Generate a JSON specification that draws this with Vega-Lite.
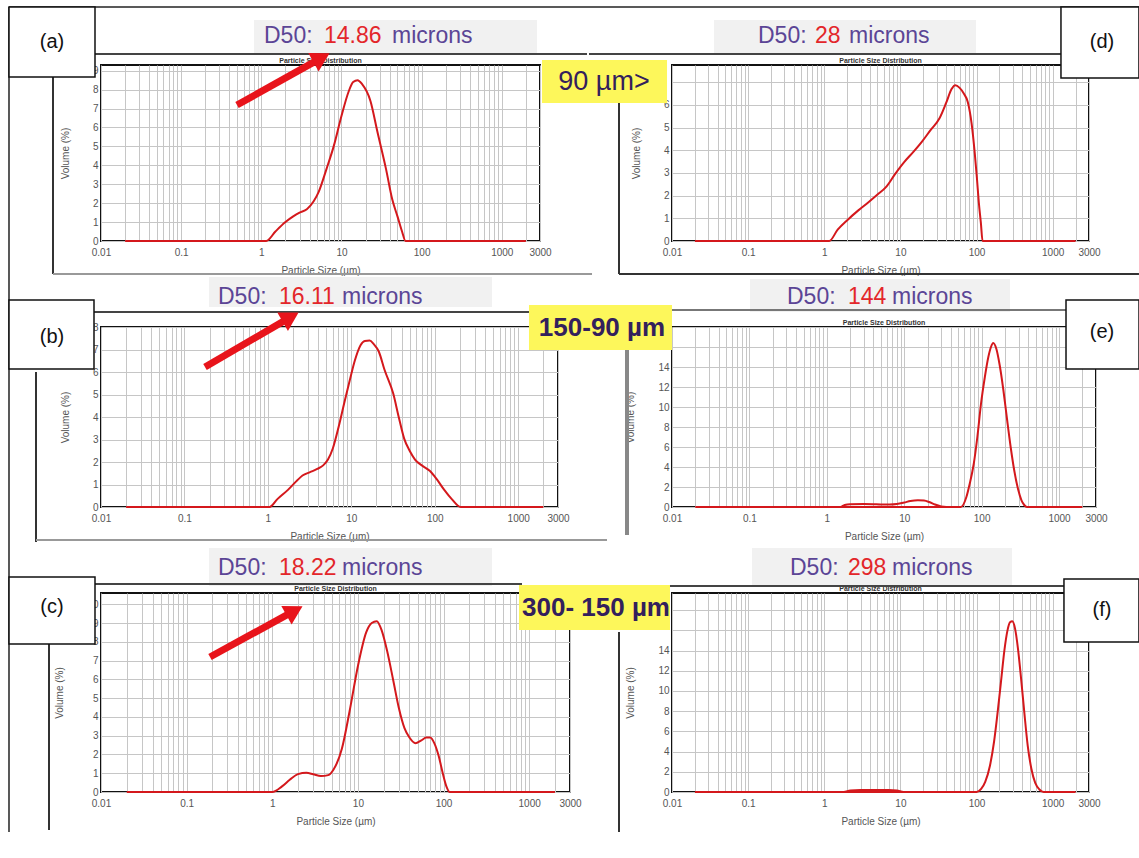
{
"$schema": "https://vega.github.io/schema/vega-lite/v6.json",
"background": "white",
"padding": {"left": 7, "top": 5, "right": 0, "bottom": 5},
"columns": 2,
"bounds": "flush",
"spacing": {"row": 86, "column": 102},
"config": {
 "view": {"stroke": "#111", "strokeWidth": 2},
 "axis": {"labelFont": "Liberation Sans", "labelFontSize": 10, "labelColor": "#555", "titleFont": "Liberation Sans", "titleFontSize": 10, "titleColor": "#555", "titleFontWeight": "normal", "gridColor": "#c6c6c6", "gridWidth": 1, "ticks": false, "domain": false, "labelPadding": 3, "labelOverlap": false},
 "axisX": {"labelPadding": 6},
 "text": {"font": "Liberation Sans"}
},
"concat": [
{
 "width": 439, "height": 176,
 "resolve": {"axis": {"x": "independent", "y": "independent"}},
 "layer": [
  {"data": {"values": [{"x":0.02,"y":0},{"x":1.15,"y":0},{"x":1.5,"y":0.5},{"x":2,"y":1.0},{"x":2.5,"y":1.3},{"x":3,"y":1.5},{"x":3.7,"y":1.68},{"x":4.5,"y":2.1},{"x":5.2,"y":2.6},{"x":6.5,"y":3.8},{"x":8,"y":5.0},{"x":10,"y":6.6},{"x":12.3,"y":7.9},{"x":14,"y":8.4},{"x":15.9,"y":8.5},{"x":18,"y":8.3},{"x":23,"y":7.4},{"x":28,"y":5.8},{"x":36,"y":3.8},{"x":43,"y":2.2},{"x":50,"y":1.3},{"x":57,"y":0.5},{"x":63,"y":0},{"x":2000,"y":0}]},
   "mark": {"type": "line", "color": "#d4181c", "strokeWidth": 2, "interpolate": "monotone"},
   "encoding": {
    "x": {"field": "x", "type": "quantitative", "scale": {"type": "log", "domain": [0.01, 3000], "nice": false}, "axis": {"values": [0.01,0.02,0.03,0.04,0.05,0.06,0.07,0.08,0.09,0.1,0.2,0.3,0.4,0.5,0.6,0.7,0.8,0.9,1,2,3,4,5,6,7,8,9,10,20,30,40,50,60,70,80,90,100,200,300,400,500,600,700,800,900,1000,2000,3000], "format": "~g", "labelExpr": "indexof([0.01,0.1,1,10,100,1000,3000], datum.value) >= 0 ? datum.label : ''", "labelFlush": false, "title": "Particle Size (µm)", "titlePadding": 8}},
    "y": {"field": "y", "type": "quantitative", "scale": {"domain": [0, 9.3], "nice": false}, "axis": {"values": [0,1,2,3,4,5,6,7,8,9], "grid": true, "title": "Volume (%)", "titlePadding": 22}}}},
  {"data": {"values": [{}]}, "mark": {"type": "text", "text": "Particle Size Distribution", "align": "center", "baseline": "bottom", "dy": -1, "fontSize": 7, "fontWeight": "bold", "color": "#333"},
   "encoding": {"x": {"datum": 5.477, "type": "quantitative", "scale": {"type": "log", "domain": [0.01, 3000], "nice": false}, "axis": null}, "y": {"datum": 9.3, "type": "quantitative", "scale": {"domain": [0, 9.3], "nice": false}, "axis": null}}},
  {"data": {"values": [{}]}, "mark": {"type": "rect", "fill": "#f1f1f1"},
   "encoding": {"x": {"datum": 0.811, "type": "quantitative", "scale": {"type": "log", "domain": [0.01, 3000], "nice": false}, "axis": null}, "x2": {"datum": 2754}, "y": {"datum": 11.678, "type": "quantitative", "scale": {"domain": [0, 9.3], "nice": false}, "axis": null}, "y2": {"datum": 9.881}}},
  {"data": {"values": [{}]}, "mark": {"type": "rule", "color": "#444", "strokeWidth": 2},
   "encoding": {"x": {"datum": 0.008416, "type": "quantitative", "scale": {"type": "log", "domain": [0.01, 3000], "nice": false}, "axis": null}, "x2": {"datum": 11575}, "y": {"datum": 9.881, "type": "quantitative", "scale": {"domain": [0, 9.3], "nice": false}, "axis": null}, "y2": {"datum": 9.881}}},
  {"data": {"values": [{}]}, "mark": {"type": "text", "text": "D50:", "align": "left", "baseline": "middle", "fontSize": 23, "color": "#5b4596"},
   "encoding": {"x": {"datum": 1.081, "type": "quantitative", "scale": {"type": "log", "domain": [0.01, 3000], "nice": false}, "axis": null}, "y": {"datum": 10.832, "type": "quantitative", "scale": {"domain": [0, 9.3], "nice": false}, "axis": null}}},
  {"data": {"values": [{}]}, "mark": {"type": "text", "text": "14.86", "align": "left", "baseline": "middle", "fontSize": 23, "color": "#e3262a"},
   "encoding": {"x": {"datum": 6.057, "type": "quantitative", "scale": {"type": "log", "domain": [0.01, 3000], "nice": false}, "axis": null}, "y": {"datum": 10.832, "type": "quantitative", "scale": {"domain": [0, 9.3], "nice": false}, "axis": null}}},
  {"data": {"values": [{}]}, "mark": {"type": "text", "text": "microns", "align": "left", "baseline": "middle", "fontSize": 23, "color": "#5b4596"},
   "encoding": {"x": {"datum": 42.72, "type": "quantitative", "scale": {"type": "log", "domain": [0.01, 3000], "nice": false}, "axis": null}, "y": {"datum": 10.832, "type": "quantitative", "scale": {"domain": [0, 9.3], "nice": false}, "axis": null}}},
  {"data": {"values": [{}]}, "mark": {"type": "rule", "color": "#333", "strokeWidth": 2},
   "encoding": {"x": {"datum": 0.002518, "type": "quantitative", "scale": {"type": "log", "domain": [0.01, 3000], "nice": false}, "axis": null}, "x2": {"datum": 0.002518}, "y": {"datum": 8.666, "type": "quantitative", "scale": {"domain": [0, 9.3], "nice": false}, "axis": null}, "y2": {"datum": -1.744}}},
  {"data": {"values": [{}]}, "mark": {"type": "rule", "color": "#999", "strokeWidth": 2},
   "encoding": {"x": {"datum": 0.002518, "type": "quantitative", "scale": {"type": "log", "domain": [0.01, 3000], "nice": false}, "axis": null}, "x2": {"datum": 13366}, "y": {"datum": -1.744, "type": "quantitative", "scale": {"domain": [0, 9.3], "nice": false}, "axis": null}, "y2": {"datum": -1.744}}},
  {"data": {"values": [{}]}, "mark": {"type": "rule", "color": "#222", "strokeWidth": 1.5},
   "encoding": {"x": {"datum": 0.0007115, "type": "quantitative", "scale": {"type": "log", "domain": [0.01, 3000], "nice": false}, "axis": null}, "x2": {"datum": 89280000000}, "y": {"datum": 12.365, "type": "quantitative", "scale": {"domain": [0, 9.3], "nice": false}, "axis": null}, "y2": {"datum": 12.365}}},
  {"data": {"values": [{}]}, "mark": {"type": "rule", "color": "#222", "strokeWidth": 1.5},
   "encoding": {"x": {"datum": 0.0007115, "type": "quantitative", "scale": {"type": "log", "domain": [0.01, 3000], "nice": false}, "axis": null}, "x2": {"datum": 0.0007115}, "y": {"datum": 12.365, "type": "quantitative", "scale": {"domain": [0, 9.3], "nice": false}, "axis": null}, "y2": {"datum": -31.23}}},
  {"data": {"values": [{}]}, "mark": {"type": "rect", "fill": "white", "stroke": "#111", "strokeWidth": 1.5},
   "encoding": {"x": {"datum": 0.0007115, "type": "quantitative", "scale": {"type": "log", "domain": [0.01, 3000], "nice": false}, "axis": null}, "x2": {"datum": 0.008416}, "y": {"datum": 12.365, "type": "quantitative", "scale": {"domain": [0, 9.3], "nice": false}, "axis": null}, "y2": {"datum": 8.666}}},
  {"data": {"values": [{}]}, "mark": {"type": "text", "text": "(a)", "align": "center", "baseline": "middle", "fontSize": 20, "color": "#111"},
   "encoding": {"x": {"datum": 0.002447, "type": "quantitative", "scale": {"type": "log", "domain": [0.01, 3000], "nice": false}, "axis": null}, "y": {"datum": 10.515, "type": "quantitative", "scale": {"domain": [0, 9.3], "nice": false}, "axis": null}}},
  {"data": {"values": [{}]}, "mark": {"type": "rule", "color": "#e8141b", "strokeWidth": 7},
   "encoding": {"x": {"datum": 0.4975, "type": "quantitative", "scale": {"type": "log", "domain": [0.01, 3000], "nice": false}, "axis": null}, "x2": {"datum": 4.955}, "y": {"datum": 7.186, "type": "quantitative", "scale": {"domain": [0, 9.3], "nice": false}, "axis": null}, "y2": {"datum": 9.543}}},
  {"data": {"values": [{}]}, "mark": {"type": "point", "shape": "triangle-up", "filled": true, "color": "#e8141b", "opacity": 1, "size": 450, "angle": 61},
   "encoding": {"x": {"datum": 5.637, "type": "quantitative", "scale": {"type": "log", "domain": [0.01, 3000], "nice": false}, "axis": null}, "y": {"datum": 9.68, "type": "quantitative", "scale": {"domain": [0, 9.3], "nice": false}, "axis": null}}}
 ]
},
{
 "width": 417, "height": 176,
 "resolve": {"axis": {"x": "independent", "y": "independent"}},
 "layer": [
  {"data": {"values": [{"x":0.02,"y":0},{"x":1.16,"y":0},{"x":1.5,"y":0.5},{"x":2.02,"y":0.93},{"x":2.8,"y":1.35},{"x":3.84,"y":1.72},{"x":5,"y":2.05},{"x":6.55,"y":2.4},{"x":8.5,"y":2.95},{"x":11.2,"y":3.48},{"x":15,"y":3.95},{"x":19.1,"y":4.37},{"x":25,"y":4.9},{"x":32.5,"y":5.4},{"x":40,"y":6.1},{"x":47,"y":6.7},{"x":52.6,"y":6.87},{"x":60,"y":6.75},{"x":68,"y":6.5},{"x":76.7,"y":6.13},{"x":86,"y":5.2},{"x":94.6,"y":3.9},{"x":101,"y":2.8},{"x":107,"y":1.72},{"x":114,"y":0.8},{"x":120,"y":0},{"x":2000,"y":0}]},
   "mark": {"type": "line", "color": "#d4181c", "strokeWidth": 2, "interpolate": "monotone"},
   "encoding": {
    "x": {"field": "x", "type": "quantitative", "scale": {"type": "log", "domain": [0.01, 3000], "nice": false}, "axis": {"values": [0.01,0.02,0.03,0.04,0.05,0.06,0.07,0.08,0.09,0.1,0.2,0.3,0.4,0.5,0.6,0.7,0.8,0.9,1,2,3,4,5,6,7,8,9,10,20,30,40,50,60,70,80,90,100,200,300,400,500,600,700,800,900,1000,2000,3000], "format": "~g", "labelExpr": "indexof([0.01,0.1,1,10,100,1000,3000], datum.value) >= 0 ? datum.label : ''", "labelFlush": false, "title": "Particle Size (µm)", "titlePadding": 8}},
    "y": {"field": "y", "type": "quantitative", "scale": {"domain": [0, 7.76], "nice": false}, "axis": {"values": [0,1,2,3,4,5,6,7], "labelExpr": "datum.value > 6 ? '' : datum.label", "grid": true, "title": "Volume (%)", "titlePadding": 22}}}},
  {"data": {"values": [{}]}, "mark": {"type": "text", "text": "Particle Size Distribution", "align": "center", "baseline": "bottom", "dy": -1, "fontSize": 7, "fontWeight": "bold", "color": "#333"},
   "encoding": {"x": {"datum": 5.477, "type": "quantitative", "scale": {"type": "log", "domain": [0.01, 3000], "nice": false}, "axis": null}, "y": {"datum": 7.76, "type": "quantitative", "scale": {"domain": [0, 7.76], "nice": false}, "axis": null}}},
  {"data": {"values": [{}]}, "mark": {"type": "rect", "fill": "#f1f1f1"},
   "encoding": {"x": {"datum": 0.0356, "type": "quantitative", "scale": {"type": "log", "domain": [0.01, 3000], "nice": false}, "axis": null}, "x2": {"datum": 98.3}, "y": {"datum": 9.744, "type": "quantitative", "scale": {"domain": [0, 7.76], "nice": false}, "axis": null}, "y2": {"datum": 8.245}}},
  {"data": {"values": [{}]}, "mark": {"type": "rule", "color": "#444", "strokeWidth": 2},
   "encoding": {"x": {"datum": 0.0008126, "type": "quantitative", "scale": {"type": "log", "domain": [0.01, 3000], "nice": false}, "axis": null}, "x2": {"datum": 1285}, "y": {"datum": 8.245, "type": "quantitative", "scale": {"domain": [0, 7.76], "nice": false}, "axis": null}, "y2": {"datum": 8.245}}},
  {"data": {"values": [{}]}, "mark": {"type": "text", "text": "D50:", "align": "left", "baseline": "middle", "fontSize": 23, "color": "#5b4596"},
   "encoding": {"x": {"datum": 0.1348, "type": "quantitative", "scale": {"type": "log", "domain": [0.01, 3000], "nice": false}, "axis": null}, "y": {"datum": 9.039, "type": "quantitative", "scale": {"domain": [0, 7.76], "nice": false}, "axis": null}}},
  {"data": {"values": [{}]}, "mark": {"type": "text", "text": "28", "align": "left", "baseline": "middle", "fontSize": 23, "color": "#e3262a"},
   "encoding": {"x": {"datum": 0.7552, "type": "quantitative", "scale": {"type": "log", "domain": [0.01, 3000], "nice": false}, "axis": null}, "y": {"datum": 9.039, "type": "quantitative", "scale": {"domain": [0, 7.76], "nice": false}, "axis": null}}},
  {"data": {"values": [{}]}, "mark": {"type": "text", "text": "microns", "align": "left", "baseline": "middle", "fontSize": 23, "color": "#5b4596"},
   "encoding": {"x": {"datum": 2.112, "type": "quantitative", "scale": {"type": "log", "domain": [0.01, 3000], "nice": false}, "axis": null}, "y": {"datum": 9.039, "type": "quantitative", "scale": {"domain": [0, 7.76], "nice": false}, "axis": null}}},
  {"data": {"values": [{}]}, "mark": {"type": "rule", "color": "#333", "strokeWidth": 2},
   "encoding": {"x": {"datum": 0.002013, "type": "quantitative", "scale": {"type": "log", "domain": [0.01, 3000], "nice": false}, "axis": null}, "x2": {"datum": 0.002013}, "y": {"datum": 6.129, "type": "quantitative", "scale": {"domain": [0, 7.76], "nice": false}, "axis": null}, "y2": {"datum": -1.455}}},
  {"data": {"values": [{}]}, "mark": {"type": "rule", "color": "#333", "strokeWidth": 2},
   "encoding": {"x": {"datum": 0.002013, "type": "quantitative", "scale": {"type": "log", "domain": [0.01, 3000], "nice": false}, "axis": null}, "x2": {"datum": 13595}, "y": {"datum": -1.455, "type": "quantitative", "scale": {"domain": [0, 7.76], "nice": false}, "axis": null}, "y2": {"datum": -1.455}}},
  {"data": {"values": [{}]}, "mark": {"type": "rect", "fill": "white", "stroke": "#111", "strokeWidth": 1.5},
   "encoding": {"x": {"datum": 1285, "type": "quantitative", "scale": {"type": "log", "domain": [0.01, 3000], "nice": false}, "axis": null}, "x2": {"datum": 13595}, "y": {"datum": 10.317, "type": "quantitative", "scale": {"domain": [0, 7.76], "nice": false}, "axis": null}, "y2": {"datum": 7.187}}},
  {"data": {"values": [{}]}, "mark": {"type": "text", "text": "(d)", "align": "center", "baseline": "middle", "fontSize": 20, "color": "#111"},
   "encoding": {"x": {"datum": 4441, "type": "quantitative", "scale": {"type": "log", "domain": [0.01, 3000], "nice": false}, "axis": null}, "y": {"datum": 8.774, "type": "quantitative", "scale": {"domain": [0, 7.76], "nice": false}, "axis": null}}},
  {"data": {"values": [{}]}, "mark": {"type": "rect", "fill": "#fdf75b"},
   "encoding": {"x": {"datum": 0.0001962, "type": "quantitative", "scale": {"type": "log", "domain": [0.01, 3000], "nice": false}, "axis": null}, "x2": {"datum": 0.0086}, "y": {"datum": 7.981, "type": "quantitative", "scale": {"domain": [0, 7.76], "nice": false}, "axis": null}, "y2": {"datum": 6.085}}},
  {"data": {"values": [{}]}, "mark": {"type": "text", "text": "90 µm>", "align": "center", "baseline": "middle", "fontSize": 27, "color": "#33205c"},
   "encoding": {"x": {"datum": 0.001279, "type": "quantitative", "scale": {"type": "log", "domain": [0.01, 3000], "nice": false}, "axis": null}, "y": {"datum": 7.011, "type": "quantitative", "scale": {"domain": [0, 7.76], "nice": false}, "axis": null}}}
 ]
},
{
 "width": 457, "height": 180,
 "resolve": {"axis": {"x": "independent", "y": "independent"}},
 "layer": [
  {"data": {"values": [{"x":0.02,"y":0},{"x":1.05,"y":0},{"x":1.3,"y":0.35},{"x":1.74,"y":0.76},{"x":2.2,"y":1.15},{"x":2.6,"y":1.4},{"x":3.2,"y":1.55},{"x":3.9,"y":1.69},{"x":4.6,"y":1.85},{"x":5.25,"y":2.11},{"x":6,"y":2.6},{"x":7.1,"y":3.61},{"x":8.2,"y":4.6},{"x":9.55,"y":5.61},{"x":11,"y":6.5},{"x":12.9,"y":7.19},{"x":14.5,"y":7.38},{"x":16.6,"y":7.4},{"x":18.5,"y":7.25},{"x":21.4,"y":6.9},{"x":25,"y":6.1},{"x":31.8,"y":5.04},{"x":37,"y":4.0},{"x":43,"y":3.04},{"x":50,"y":2.5},{"x":58,"y":2.11},{"x":70,"y":1.85},{"x":87,"y":1.61},{"x":105,"y":1.25},{"x":130,"y":0.76},{"x":160,"y":0.35},{"x":204,"y":0},{"x":2000,"y":0}]},
   "mark": {"type": "line", "color": "#d4181c", "strokeWidth": 2, "interpolate": "monotone"},
   "encoding": {
    "x": {"field": "x", "type": "quantitative", "scale": {"type": "log", "domain": [0.01, 3000], "nice": false}, "axis": {"values": [0.01,0.02,0.03,0.04,0.05,0.06,0.07,0.08,0.09,0.1,0.2,0.3,0.4,0.5,0.6,0.7,0.8,0.9,1,2,3,4,5,6,7,8,9,10,20,30,40,50,60,70,80,90,100,200,300,400,500,600,700,800,900,1000,2000,3000], "format": "~g", "labelExpr": "indexof([0.01,0.1,1,10,100,1000,3000], datum.value) >= 0 ? datum.label : ''", "labelFlush": false, "title": "Particle Size (µm)", "titlePadding": 8}},
    "y": {"field": "y", "type": "quantitative", "scale": {"domain": [0, 8.0], "nice": false}, "axis": {"values": [0,1,2,3,4,5,6,7,8], "grid": true, "title": "Volume (%)", "titlePadding": 22}}}},
  {"data": {"values": [{}]}, "mark": {"type": "rect", "fill": "#f1f1f1"},
   "encoding": {"x": {"datum": 0.197, "type": "quantitative", "scale": {"type": "log", "domain": [0.01, 3000], "nice": false}, "axis": null}, "x2": {"datum": 485.3}, "y": {"datum": 10.222, "type": "quantitative", "scale": {"domain": [0, 8.0], "nice": false}, "axis": null}, "y2": {"datum": 8.889}}},
  {"data": {"values": [{}]}, "mark": {"type": "rule", "color": "#444", "strokeWidth": 2},
   "encoding": {"x": {"datum": 0.008243, "type": "quantitative", "scale": {"type": "log", "domain": [0.01, 3000], "nice": false}, "axis": null}, "x2": {"datum": 1463}, "y": {"datum": 8.667, "type": "quantitative", "scale": {"domain": [0, 8.0], "nice": false}, "axis": null}, "y2": {"datum": 8.667}}},
  {"data": {"values": [{}]}, "mark": {"type": "text", "text": "D50:", "align": "left", "baseline": "middle", "fontSize": 23, "color": "#5b4596"},
   "encoding": {"x": {"datum": 0.2525, "type": "quantitative", "scale": {"type": "log", "domain": [0.01, 3000], "nice": false}, "axis": null}, "y": {"datum": 9.333, "type": "quantitative", "scale": {"domain": [0, 8.0], "nice": false}, "axis": null}}},
  {"data": {"values": [{}]}, "mark": {"type": "text", "text": "16.11", "align": "left", "baseline": "middle", "fontSize": 23, "color": "#e3262a"},
   "encoding": {"x": {"datum": 1.359, "type": "quantitative", "scale": {"type": "log", "domain": [0.01, 3000], "nice": false}, "axis": null}, "y": {"datum": 9.333, "type": "quantitative", "scale": {"domain": [0, 8.0], "nice": false}, "axis": null}}},
  {"data": {"values": [{}]}, "mark": {"type": "text", "text": "microns", "align": "left", "baseline": "middle", "fontSize": 23, "color": "#5b4596"},
   "encoding": {"x": {"datum": 7.733, "type": "quantitative", "scale": {"type": "log", "domain": [0.01, 3000], "nice": false}, "axis": null}, "y": {"datum": 9.333, "type": "quantitative", "scale": {"domain": [0, 8.0], "nice": false}, "axis": null}}},
  {"data": {"values": [{}]}, "mark": {"type": "rule", "color": "#333", "strokeWidth": 2},
   "encoding": {"x": {"datum": 0.001663, "type": "quantitative", "scale": {"type": "log", "domain": [0.01, 3000], "nice": false}, "axis": null}, "x2": {"datum": 0.001663}, "y": {"datum": 6.0, "type": "quantitative", "scale": {"domain": [0, 8.0], "nice": false}, "axis": null}, "y2": {"datum": -1.556}}},
  {"data": {"values": [{}]}, "mark": {"type": "rule", "color": "#999", "strokeWidth": 2},
   "encoding": {"x": {"datum": 0.001663, "type": "quantitative", "scale": {"type": "log", "domain": [0.01, 3000], "nice": false}, "axis": null}, "x2": {"datum": 11596}, "y": {"datum": -1.467, "type": "quantitative", "scale": {"domain": [0, 8.0], "nice": false}, "axis": null}, "y2": {"datum": -1.467}}},
  {"data": {"values": [{}]}, "mark": {"type": "rect", "fill": "white", "stroke": "#111", "strokeWidth": 1.5},
   "encoding": {"x": {"datum": 0.0007897, "type": "quantitative", "scale": {"type": "log", "domain": [0.01, 3000], "nice": false}, "axis": null}, "x2": {"datum": 0.008243}, "y": {"datum": 9.2, "type": "quantitative", "scale": {"domain": [0, 8.0], "nice": false}, "axis": null}, "y2": {"datum": 6.133}}},
  {"data": {"values": [{}]}, "mark": {"type": "text", "text": "(b)", "align": "center", "baseline": "middle", "fontSize": 20, "color": "#111"},
   "encoding": {"x": {"datum": 0.002587, "type": "quantitative", "scale": {"type": "log", "domain": [0.01, 3000], "nice": false}, "axis": null}, "y": {"datum": 7.556, "type": "quantitative", "scale": {"domain": [0, 8.0], "nice": false}, "axis": null}}},
  {"data": {"values": [{}]}, "mark": {"type": "rule", "color": "#e8141b", "strokeWidth": 7},
   "encoding": {"x": {"datum": 0.1764, "type": "quantitative", "scale": {"type": "log", "domain": [0.01, 3000], "nice": false}, "axis": null}, "x2": {"datum": 1.704}, "y": {"datum": 6.222, "type": "quantitative", "scale": {"domain": [0, 8.0], "nice": false}, "axis": null}, "y2": {"datum": 8.351}}},
  {"data": {"values": [{}]}, "mark": {"type": "point", "shape": "triangle-up", "filled": true, "color": "#e8141b", "opacity": 1, "size": 450, "angle": 60},
   "encoding": {"x": {"datum": 1.872, "type": "quantitative", "scale": {"type": "log", "domain": [0.01, 3000], "nice": false}, "axis": null}, "y": {"datum": 8.44, "type": "quantitative", "scale": {"domain": [0, 8.0], "nice": false}, "axis": null}}}
 ]
},
{
 "width": 424, "height": 180,
 "resolve": {"axis": {"x": "independent", "y": "independent"}},
 "layer": [
  {"data": {"values": [{"x":0.02,"y":0,"s":"m"},{"x":1.5,"y":0,"s":"m"},{"x":1.7,"y":0.2,"s":"m"},{"x":2,"y":0.28,"s":"m"},{"x":3,"y":0.3,"s":"m"},{"x":4,"y":0.28,"s":"m"},{"x":5,"y":0.25,"s":"m"},{"x":6.5,"y":0.25,"s":"m"},{"x":8,"y":0.3,"s":"m"},{"x":10,"y":0.45,"s":"m"},{"x":12,"y":0.6,"s":"m"},{"x":15,"y":0.68,"s":"m"},{"x":18,"y":0.65,"s":"m"},{"x":21,"y":0.5,"s":"m"},{"x":25,"y":0.25,"s":"m"},{"x":30,"y":0.05,"s":"m"},{"x":35,"y":0,"s":"m"},{"x":53.8,"y":0,"s":"m"},{"x":63.5,"y":1.0,"s":"m"},{"x":70,"y":2.3,"s":"m"},{"x":79,"y":4.3,"s":"m"},{"x":88,"y":7.0,"s":"m"},{"x":98,"y":10.3,"s":"m"},{"x":110,"y":13.0,"s":"m"},{"x":122,"y":15.0,"s":"m"},{"x":132,"y":16.0,"s":"m"},{"x":141,"y":16.4,"s":"m"},{"x":155,"y":15.8,"s":"m"},{"x":170,"y":14.3,"s":"m"},{"x":190,"y":11.8,"s":"m"},{"x":211,"y":9.0,"s":"m"},{"x":237,"y":6.0,"s":"m"},{"x":263,"y":3.7,"s":"m"},{"x":295,"y":1.8,"s":"m"},{"x":327,"y":0.67,"s":"m"},{"x":355,"y":0.2,"s":"m"},{"x":385,"y":0,"s":"m"},{"x":2000,"y":0,"s":"m"},{"x":1.5,"y":0,"s":"b"},{"x":35,"y":0,"s":"b"}]},
   "mark": {"type": "line", "color": "#d4181c", "strokeWidth": 2, "interpolate": "monotone"},
   "encoding": {
    "x": {"field": "x", "type": "quantitative", "scale": {"type": "log", "domain": [0.01, 3000], "nice": false}, "axis": {"values": [0.01,0.02,0.03,0.04,0.05,0.06,0.07,0.08,0.09,0.1,0.2,0.3,0.4,0.5,0.6,0.7,0.8,0.9,1,2,3,4,5,6,7,8,9,10,20,30,40,50,60,70,80,90,100,200,300,400,500,600,700,800,900,1000,2000,3000], "format": "~g", "labelExpr": "indexof([0.01,0.1,1,10,100,1000,3000], datum.value) >= 0 ? datum.label : ''", "labelFlush": false, "title": "Particle Size (µm)", "titlePadding": 8}},
    "y": {"field": "y", "type": "quantitative", "scale": {"domain": [0, 18], "nice": false}, "axis": {"values": [0,2,4,6,8,10,12,14,16,18], "labelExpr": "datum.value > 14 ? '' : datum.label", "grid": true, "title": "Volume (%)", "titlePadding": 22}},
    "detail": {"field": "s"}}},
  {"data": {"values": [{}]}, "mark": {"type": "text", "text": "Particle Size Distribution", "align": "center", "baseline": "bottom", "dy": -1, "fontSize": 7, "fontWeight": "bold", "color": "#333"},
   "encoding": {"x": {"datum": 5.477, "type": "quantitative", "scale": {"type": "log", "domain": [0.01, 3000], "nice": false}, "axis": null}, "y": {"datum": 18, "type": "quantitative", "scale": {"domain": [0, 18], "nice": false}, "axis": null}}},
  {"data": {"values": [{}]}, "mark": {"type": "rect", "fill": "#f1f1f1"},
   "encoding": {"x": {"datum": 0.1018, "type": "quantitative", "scale": {"type": "log", "domain": [0.01, 3000], "nice": false}, "axis": null}, "x2": {"datum": 232.5}, "y": {"datum": 22.8, "type": "quantitative", "scale": {"domain": [0, 18], "nice": false}, "axis": null}, "y2": {"datum": 19.5}}},
  {"data": {"values": [{}]}, "mark": {"type": "rule", "color": "#777", "strokeWidth": 2},
   "encoding": {"x": {"datum": 0.000847, "type": "quantitative", "scale": {"type": "log", "domain": [0.01, 3000], "nice": false}, "axis": null}, "x2": {"datum": 1229.5}, "y": {"datum": 19.7, "type": "quantitative", "scale": {"domain": [0, 18], "nice": false}, "axis": null}, "y2": {"datum": 19.7}}},
  {"data": {"values": [{}]}, "mark": {"type": "text", "text": "D50:", "align": "left", "baseline": "middle", "fontSize": 23, "color": "#5b4596"},
   "encoding": {"x": {"datum": 0.3059, "type": "quantitative", "scale": {"type": "log", "domain": [0.01, 3000], "nice": false}, "axis": null}, "y": {"datum": 21.0, "type": "quantitative", "scale": {"domain": [0, 18], "nice": false}, "axis": null}}},
  {"data": {"values": [{}]}, "mark": {"type": "text", "text": "144", "align": "left", "baseline": "middle", "fontSize": 23, "color": "#e3262a"},
   "encoding": {"x": {"datum": 1.877, "type": "quantitative", "scale": {"type": "log", "domain": [0.01, 3000], "nice": false}, "axis": null}, "y": {"datum": 21.0, "type": "quantitative", "scale": {"domain": [0, 18], "nice": false}, "axis": null}}},
  {"data": {"values": [{}]}, "mark": {"type": "text", "text": "microns", "align": "left", "baseline": "middle", "fontSize": 23, "color": "#5b4596"},
   "encoding": {"x": {"datum": 6.95, "type": "quantitative", "scale": {"type": "log", "domain": [0.01, 3000], "nice": false}, "axis": null}, "y": {"datum": 21.0, "type": "quantitative", "scale": {"domain": [0, 18], "nice": false}, "axis": null}}},
  {"data": {"values": [{}]}, "mark": {"type": "rule", "color": "#888", "strokeWidth": 4},
   "encoding": {"x": {"datum": 0.002623, "type": "quantitative", "scale": {"type": "log", "domain": [0.01, 3000], "nice": false}, "axis": null}, "x2": {"datum": 0.002623}, "y": {"datum": 15.7, "type": "quantitative", "scale": {"domain": [0, 18], "nice": false}, "axis": null}, "y2": {"datum": -2.8}}},
  {"data": {"values": [{}]}, "mark": {"type": "rect", "fill": "white", "stroke": "#111", "strokeWidth": 1.5},
   "encoding": {"x": {"datum": 1229.5, "type": "quantitative", "scale": {"type": "log", "domain": [0.01, 3000], "nice": false}, "axis": null}, "x2": {"datum": 10785}, "y": {"datum": 20.7, "type": "quantitative", "scale": {"domain": [0, 18], "nice": false}, "axis": null}, "y2": {"datum": 13.8}}},
  {"data": {"values": [{}]}, "mark": {"type": "text", "text": "(e)", "align": "center", "baseline": "middle", "fontSize": 20, "color": "#111"},
   "encoding": {"x": {"datum": 3588, "type": "quantitative", "scale": {"type": "log", "domain": [0.01, 3000], "nice": false}, "axis": null}, "y": {"datum": 17.5, "type": "quantitative", "scale": {"domain": [0, 18], "nice": false}, "axis": null}}},
  {"data": {"values": [{}]}, "mark": {"type": "rect", "fill": "#fdf75b"},
   "encoding": {"x": {"datum": 0.0001421, "type": "quantitative", "scale": {"type": "log", "domain": [0.01, 3000], "nice": false}, "axis": null}, "x2": {"datum": 0.01}, "y": {"datum": 20.2, "type": "quantitative", "scale": {"domain": [0, 18], "nice": false}, "axis": null}, "y2": {"datum": 15.7}}},
  {"data": {"values": [{}]}, "mark": {"type": "text", "text": "150-90 µm", "align": "center", "baseline": "middle", "fontSize": 26, "fontWeight": "bold", "color": "#33205c"},
   "encoding": {"x": {"datum": 0.001247, "type": "quantitative", "scale": {"type": "log", "domain": [0.01, 3000], "nice": false}, "axis": null}, "y": {"datum": 17.9, "type": "quantitative", "scale": {"domain": [0, 18], "nice": false}, "axis": null}}}
 ]
},
{
 "width": 469, "height": 199,
 "resolve": {"axis": {"x": "independent", "y": "independent"}},
 "layer": [
  {"data": {"values": [{"x":0.02,"y":0},{"x":1.0,"y":0},{"x":1.3,"y":0.3},{"x":1.6,"y":0.65},{"x":2.0,"y":0.95},{"x":2.5,"y":1.02},{"x":3.0,"y":0.95},{"x":3.7,"y":0.85},{"x":4.5,"y":0.9},{"x":5.2,"y":1.2},{"x":6.5,"y":2.3},{"x":8,"y":4.3},{"x":10,"y":6.7},{"x":12.5,"y":8.5},{"x":14.5,"y":9.0},{"x":16.6,"y":9.1},{"x":19,"y":8.6},{"x":22,"y":7.5},{"x":26,"y":5.9},{"x":30,"y":4.5},{"x":35,"y":3.4},{"x":40,"y":2.9},{"x":47,"y":2.6},{"x":55,"y":2.75},{"x":63,"y":2.9},{"x":70,"y":2.9},{"x":78,"y":2.6},{"x":88,"y":1.9},{"x":98,"y":1.0},{"x":108,"y":0.3},{"x":118,"y":0},{"x":2000,"y":0}]},
   "mark": {"type": "line", "color": "#d4181c", "strokeWidth": 2, "interpolate": "monotone"},
   "encoding": {
    "x": {"field": "x", "type": "quantitative", "scale": {"type": "log", "domain": [0.01, 3000], "nice": false}, "axis": {"values": [0.01,0.02,0.03,0.04,0.05,0.06,0.07,0.08,0.09,0.1,0.2,0.3,0.4,0.5,0.6,0.7,0.8,0.9,1,2,3,4,5,6,7,8,9,10,20,30,40,50,60,70,80,90,100,200,300,400,500,600,700,800,900,1000,2000,3000], "format": "~g", "labelExpr": "indexof([0.01,0.1,1,10,100,1000,3000], datum.value) >= 0 ? datum.label : ''", "labelFlush": false, "title": "Particle Size (µm)", "titlePadding": 8}},
    "y": {"field": "y", "type": "quantitative", "scale": {"domain": [0, 10.6], "nice": false}, "axis": {"values": [0,1,2,3,4,5,6,7,8,9,10], "grid": true, "title": "Volume (%)", "titlePadding": 22}}}},
  {"data": {"values": [{}]}, "mark": {"type": "rect", "fill": "#f1f1f1"},
   "encoding": {"x": {"datum": 0.1825, "type": "quantitative", "scale": {"type": "log", "domain": [0.01, 3000], "nice": false}, "axis": null}, "x2": {"datum": 368.3}, "y": {"datum": 13.0, "type": "quantitative", "scale": {"domain": [0, 10.6], "nice": false}, "axis": null}, "y2": {"datum": 10.975}}},
  {"data": {"values": [{}]}, "mark": {"type": "rule", "color": "#444", "strokeWidth": 2},
   "encoding": {"x": {"datum": 0.00851, "type": "quantitative", "scale": {"type": "log", "domain": [0.01, 3000], "nice": false}, "axis": null}, "x2": {"datum": 825}, "y": {"datum": 11.082, "type": "quantitative", "scale": {"domain": [0, 10.6], "nice": false}, "axis": null}, "y2": {"datum": 11.082}}},
  {"data": {"values": [{}]}, "mark": {"type": "text", "text": "Particle Size Distribution", "align": "center", "baseline": "bottom", "dy": -1, "fontSize": 7, "fontWeight": "bold", "color": "#333"},
   "encoding": {"x": {"datum": 5.477, "type": "quantitative", "scale": {"type": "log", "domain": [0.01, 3000], "nice": false}, "axis": null}, "y": {"datum": 10.6, "type": "quantitative", "scale": {"domain": [0, 10.6], "nice": false}, "axis": null}}},
  {"data": {"values": [{}]}, "mark": {"type": "text", "text": "D50:", "align": "left", "baseline": "middle", "fontSize": 23, "color": "#5b4596"},
   "encoding": {"x": {"datum": 0.2324, "type": "quantitative", "scale": {"type": "log", "domain": [0.01, 3000], "nice": false}, "axis": null}, "y": {"datum": 11.934, "type": "quantitative", "scale": {"domain": [0, 10.6], "nice": false}, "axis": null}}},
  {"data": {"values": [{}]}, "mark": {"type": "text", "text": "18.22", "align": "left", "baseline": "middle", "fontSize": 23, "color": "#e3262a"},
   "encoding": {"x": {"datum": 1.1986, "type": "quantitative", "scale": {"type": "log", "domain": [0.01, 3000], "nice": false}, "axis": null}, "y": {"datum": 11.934, "type": "quantitative", "scale": {"domain": [0, 10.6], "nice": false}, "axis": null}}},
  {"data": {"values": [{}]}, "mark": {"type": "text", "text": "microns", "align": "left", "baseline": "middle", "fontSize": 23, "color": "#5b4596"},
   "encoding": {"x": {"datum": 6.522, "type": "quantitative", "scale": {"type": "log", "domain": [0.01, 3000], "nice": false}, "axis": null}, "y": {"datum": 11.934, "type": "quantitative", "scale": {"domain": [0, 10.6], "nice": false}, "axis": null}}},
  {"data": {"values": [{}]}, "mark": {"type": "rule", "color": "#333", "strokeWidth": 2},
   "encoding": {"x": {"datum": 0.00247, "type": "quantitative", "scale": {"type": "log", "domain": [0.01, 3000], "nice": false}, "axis": null}, "x2": {"datum": 0.00247}, "y": {"datum": 7.885, "type": "quantitative", "scale": {"domain": [0, 10.6], "nice": false}, "axis": null}, "y2": {"datum": -2.025}}},
  {"data": {"values": [{}]}, "mark": {"type": "rect", "fill": "white", "stroke": "#111", "strokeWidth": 1.5},
   "encoding": {"x": {"datum": 0.000843, "type": "quantitative", "scale": {"type": "log", "domain": [0.01, 3000], "nice": false}, "axis": null}, "x2": {"datum": 0.00851}, "y": {"datum": 11.454, "type": "quantitative", "scale": {"domain": [0, 10.6], "nice": false}, "axis": null}, "y2": {"datum": 7.885}}},
  {"data": {"values": [{}]}, "mark": {"type": "text", "text": "(c)", "align": "center", "baseline": "middle", "fontSize": 20, "color": "#111"},
   "encoding": {"x": {"datum": 0.002678, "type": "quantitative", "scale": {"type": "log", "domain": [0.01, 3000], "nice": false}, "axis": null}, "y": {"datum": 9.856, "type": "quantitative", "scale": {"domain": [0, 10.6], "nice": false}, "axis": null}}},
  {"data": {"values": [{}]}, "mark": {"type": "rule", "color": "#e8141b", "strokeWidth": 7},
   "encoding": {"x": {"datum": 0.1875, "type": "quantitative", "scale": {"type": "log", "domain": [0.01, 3000], "nice": false}, "axis": null}, "x2": {"datum": 1.655}, "y": {"datum": 7.192, "type": "quantitative", "scale": {"domain": [0, 10.6], "nice": false}, "axis": null}, "y2": {"datum": 9.552}}},
  {"data": {"values": [{}]}, "mark": {"type": "point", "shape": "triangle-up", "filled": true, "color": "#e8141b", "opacity": 1, "size": 450, "angle": 61},
   "encoding": {"x": {"datum": 1.818, "type": "quantitative", "scale": {"type": "log", "domain": [0.01, 3000], "nice": false}, "axis": null}, "y": {"datum": 9.654, "type": "quantitative", "scale": {"domain": [0, 10.6], "nice": false}, "axis": null}}}
 ]
},
{
 "width": 417, "height": 199,
 "resolve": {"axis": {"x": "independent", "y": "independent"}},
 "layer": [
  {"data": {"values": [{"x":0.02,"y":0,"s":"m"},{"x":1.8,"y":0,"s":"m"},{"x":2.2,"y":0.15,"s":"m"},{"x":3,"y":0.2,"s":"m"},{"x":5,"y":0.2,"s":"m"},{"x":7,"y":0.2,"s":"m"},{"x":9,"y":0.15,"s":"m"},{"x":11,"y":0,"s":"m"},{"x":100,"y":0,"s":"m"},{"x":115,"y":0.3,"s":"m"},{"x":130,"y":1.0,"s":"m"},{"x":150,"y":2.6,"s":"m"},{"x":170,"y":5.0,"s":"m"},{"x":190,"y":8.0,"s":"m"},{"x":210,"y":11.0,"s":"m"},{"x":232,"y":14.0,"s":"m"},{"x":255,"y":16.0,"s":"m"},{"x":275,"y":16.8,"s":"m"},{"x":295,"y":16.9,"s":"m"},{"x":320,"y":16.2,"s":"m"},{"x":350,"y":14.2,"s":"m"},{"x":385,"y":11.2,"s":"m"},{"x":425,"y":7.8,"s":"m"},{"x":470,"y":4.6,"s":"m"},{"x":525,"y":2.3,"s":"m"},{"x":590,"y":0.9,"s":"m"},{"x":670,"y":0.25,"s":"m"},{"x":760,"y":0,"s":"m"},{"x":2000,"y":0,"s":"m"},{"x":1.8,"y":0,"s":"b"},{"x":11,"y":0,"s":"b"}]},
   "mark": {"type": "line", "color": "#d4181c", "strokeWidth": 2, "interpolate": "monotone"},
   "encoding": {
    "x": {"field": "x", "type": "quantitative", "scale": {"type": "log", "domain": [0.01, 3000], "nice": false}, "axis": {"values": [0.01,0.02,0.03,0.04,0.05,0.06,0.07,0.08,0.09,0.1,0.2,0.3,0.4,0.5,0.6,0.7,0.8,0.9,1,2,3,4,5,6,7,8,9,10,20,30,40,50,60,70,80,90,100,200,300,400,500,600,700,800,900,1000,2000,3000], "format": "~g", "labelExpr": "indexof([0.01,0.1,1,10,100,1000,3000], datum.value) >= 0 ? datum.label : ''", "labelFlush": false, "title": "Particle Size (µm)", "titlePadding": 8}},
    "y": {"field": "y", "type": "quantitative", "scale": {"domain": [0, 19.7], "nice": false}, "axis": {"values": [0,2,4,6,8,10,12,14,16,18], "labelExpr": "datum.value > 14 ? '' : datum.label", "grid": true, "title": "Volume (%)", "titlePadding": 22}},
    "detail": {"field": "s"}}},
  {"data": {"values": [{}]}, "mark": {"type": "text", "text": "Particle Size Distribution", "align": "center", "baseline": "bottom", "dy": -1, "fontSize": 7, "fontWeight": "bold", "color": "#333"},
   "encoding": {"x": {"datum": 5.477, "type": "quantitative", "scale": {"type": "log", "domain": [0.01, 3000], "nice": false}, "axis": null}, "y": {"datum": 19.7, "type": "quantitative", "scale": {"domain": [0, 19.7], "nice": false}, "axis": null}}},
  {"data": {"values": [{}]}, "mark": {"type": "rect", "fill": "#f1f1f1"},
   "encoding": {"x": {"datum": 0.1124, "type": "quantitative", "scale": {"type": "log", "domain": [0.01, 3000], "nice": false}, "axis": null}, "x2": {"datum": 292.1}, "y": {"datum": 24.158, "type": "quantitative", "scale": {"domain": [0, 19.7], "nice": false}, "axis": null}, "y2": {"datum": 20.396}}},
  {"data": {"values": [{}]}, "mark": {"type": "rule", "color": "#444", "strokeWidth": 2},
   "encoding": {"x": {"datum": 0.0008126, "type": "quantitative", "scale": {"type": "log", "domain": [0.01, 3000], "nice": false}, "axis": null}, "x2": {"datum": 1407}, "y": {"datum": 20.396, "type": "quantitative", "scale": {"domain": [0, 19.7], "nice": false}, "axis": null}, "y2": {"datum": 20.396}}},
  {"data": {"values": [{}]}, "mark": {"type": "text", "text": "D50:", "align": "left", "baseline": "middle", "fontSize": 23, "color": "#5b4596"},
   "encoding": {"x": {"datum": 0.3546, "type": "quantitative", "scale": {"type": "log", "domain": [0.01, 3000], "nice": false}, "axis": null}, "y": {"datum": 22.178, "type": "quantitative", "scale": {"domain": [0, 19.7], "nice": false}, "axis": null}}},
  {"data": {"values": [{}]}, "mark": {"type": "text", "text": "298", "align": "left", "baseline": "middle", "fontSize": 23, "color": "#e3262a"},
   "encoding": {"x": {"datum": 2.049, "type": "quantitative", "scale": {"type": "log", "domain": [0.01, 3000], "nice": false}, "axis": null}, "y": {"datum": 22.178, "type": "quantitative", "scale": {"domain": [0, 19.7], "nice": false}, "axis": null}}},
  {"data": {"values": [{}]}, "mark": {"type": "text", "text": "microns", "align": "left", "baseline": "middle", "fontSize": 23, "color": "#5b4596"},
   "encoding": {"x": {"datum": 7.752, "type": "quantitative", "scale": {"type": "log", "domain": [0.01, 3000], "nice": false}, "axis": null}, "y": {"datum": 22.178, "type": "quantitative", "scale": {"domain": [0, 19.7], "nice": false}, "axis": null}}},
  {"data": {"values": [{}]}, "mark": {"type": "rule", "color": "#333", "strokeWidth": 2},
   "encoding": {"x": {"datum": 0.002013, "type": "quantitative", "scale": {"type": "log", "domain": [0.01, 3000], "nice": false}, "axis": null}, "x2": {"datum": 0.002013}, "y": {"datum": 15.84, "type": "quantitative", "scale": {"domain": [0, 19.7], "nice": false}, "axis": null}, "y2": {"datum": -3.96}}},
  {"data": {"values": [{}]}, "mark": {"type": "rect", "fill": "white", "stroke": "#111", "strokeWidth": 1.5},
   "encoding": {"x": {"datum": 1407, "type": "quantitative", "scale": {"type": "log", "domain": [0.01, 3000], "nice": false}, "axis": null}, "x2": {"datum": 13595}, "y": {"datum": 21.089, "type": "quantitative", "scale": {"domain": [0, 19.7], "nice": false}, "axis": null}, "y2": {"datum": 14.851}}},
  {"data": {"values": [{}]}, "mark": {"type": "text", "text": "(f)", "align": "center", "baseline": "middle", "fontSize": 20, "color": "#111"},
   "encoding": {"x": {"datum": 4441, "type": "quantitative", "scale": {"type": "log", "domain": [0.01, 3000], "nice": false}, "axis": null}, "y": {"datum": 18.02, "type": "quantitative", "scale": {"domain": [0, 19.7], "nice": false}, "axis": null}}},
  {"data": {"values": [{}]}, "mark": {"type": "rect", "fill": "#fdf75b"},
   "encoding": {"x": {"datum": 0.0000978, "type": "quantitative", "scale": {"type": "log", "domain": [0.01, 3000], "nice": false}, "axis": null}, "x2": {"datum": 0.00941}, "y": {"datum": 20.495, "type": "quantitative", "scale": {"domain": [0, 19.7], "nice": false}, "axis": null}, "y2": {"datum": 16.04}}},
  {"data": {"values": [{}]}, "mark": {"type": "text", "text": "300- 150 µm", "align": "center", "baseline": "middle", "fontSize": 26, "fontWeight": "bold", "color": "#33205c"},
   "encoding": {"x": {"datum": 0.001004, "type": "quantitative", "scale": {"type": "log", "domain": [0.01, 3000], "nice": false}, "axis": null}, "y": {"datum": 18.218, "type": "quantitative", "scale": {"domain": [0, 19.7], "nice": false}, "axis": null}}}
 ]
}
]
}
